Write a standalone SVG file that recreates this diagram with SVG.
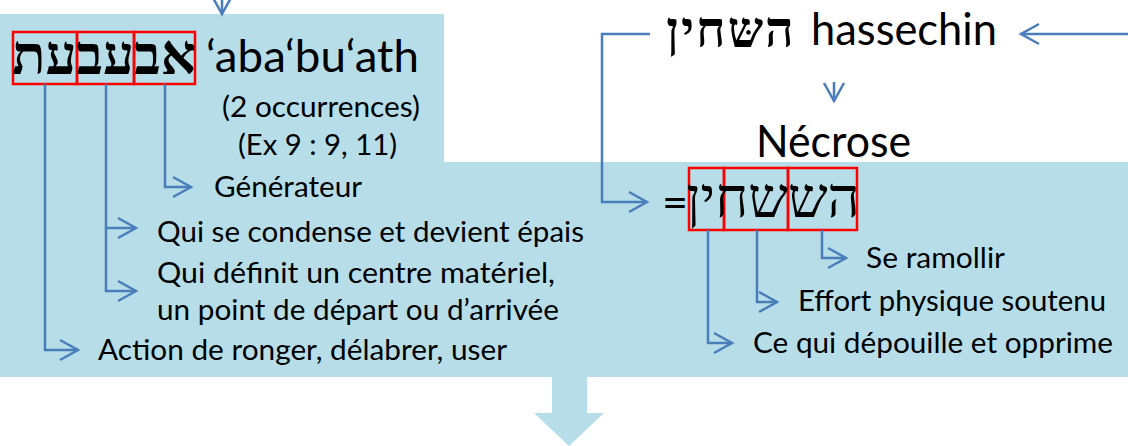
<svg xmlns="http://www.w3.org/2000/svg" width="1128" height="446" viewBox="0 0 1128 446">
  <style>
    .t { font-family: Lato, "Open Sans", "Liberation Sans", sans-serif; fill: #000; }
    .big { font-size: 45px; }
    .sm { font-size: 28px; }
    .heb { font-family: "Liberation Serif", "DejaVu Serif", serif; fill: #000; }
    .conn { fill: none; stroke: #4a7ebb; stroke-width: 2.5; }
    .box { fill: none; stroke: #ff0000; stroke-width: 2.5; }
  </style>
  <defs>
    <marker id="arr" markerUnits="userSpaceOnUse" markerWidth="26" markerHeight="26" viewBox="-21 -13 26 26" refX="0" refY="0" orient="auto">
      <path d="M-18,-10 L0,0 L-18,10" fill="none" stroke="#4a7ebb" stroke-width="2.5"/>
    </marker>
  </defs>

  <path id="background" d="M0,14 H444 V162 H1128 V377 H587 V413 H604 L569,446 L534,413 H552 V377 H0 Z" fill="#b7dee8"/>

  <g id="word-ababuath">
    <rect class="box" x="13" y="32" width="64" height="52"/>
    <rect class="box" x="77" y="32" width="57" height="52"/>
    <rect class="box" x="134" y="32" width="61" height="52"/>
    <text class="heb" x="104" y="74" font-size="55" font-weight="bold" text-anchor="middle">אבעבעת</text>
    <text class="t big" x="206" y="72" textLength="213" lengthAdjust="spacingAndGlyphs">‘aba‘bu‘ath</text>
    <text class="t sm" x="222" y="117" textLength="198" lengthAdjust="spacingAndGlyphs">(2 occurrences)</text>
    <text class="t sm" x="238" y="155" textLength="159" lengthAdjust="spacingAndGlyphs">(Ex 9 : 9, 11)</text>
  </g>

  <g id="meanings-left">
    <text class="t sm" x="214" y="197" textLength="148" lengthAdjust="spacingAndGlyphs">Générateur</text>
    <text class="t sm" x="157" y="242" textLength="427" lengthAdjust="spacingAndGlyphs">Qui se condense et devient épais</text>
    <text class="t sm" x="157" y="283" textLength="398" lengthAdjust="spacingAndGlyphs">Qui définit un centre matériel,</text>
    <text class="t sm" x="157" y="320" textLength="402" lengthAdjust="spacingAndGlyphs">un point de départ ou d’arrivée</text>
    <text class="t sm" x="98" y="360" textLength="409" lengthAdjust="spacingAndGlyphs">Action de ronger, délabrer, user</text>
  </g>

  <g id="word-hassechin">
    <text class="heb" x="731" y="47" font-size="50" font-weight="bold" letter-spacing="2" text-anchor="middle">השּחין</text>
    <text class="t big" x="811" y="45" textLength="186" lengthAdjust="spacingAndGlyphs">hassechin</text>
  </g>

  <g id="necrose">
    <text class="t big" x="756" y="157" textLength="155" lengthAdjust="spacingAndGlyphs">Nécrose</text>
  </g>

  <g id="word-split">
    <text class="t big" x="688" y="218" text-anchor="end">=</text>
    <rect class="box" x="689" y="168" width="35" height="62"/>
    <rect class="box" x="724" y="168" width="64" height="62"/>
    <rect class="box" x="788" y="168" width="69" height="62"/>
    <text class="heb" x="773" y="217" font-size="56" text-anchor="middle">הששחין</text>
  </g>

  <g id="meanings-right">
    <text class="t sm" x="866" y="268" textLength="139" lengthAdjust="spacingAndGlyphs">Se ramollir</text>
    <text class="t sm" x="798" y="311" textLength="308" lengthAdjust="spacingAndGlyphs">Effort physique soutenu</text>
    <text class="t sm" x="753" y="353" textLength="360" lengthAdjust="spacingAndGlyphs">Ce qui dépouille et opprime</text>
  </g>

  <g id="connectors">
    <path class="conn" d="M222,0 V14" marker-end="url(#arr)"/>
    <path class="conn" d="M1128,34 H1021" marker-end="url(#arr)"/>
    <path class="conn" d="M834,82 V101" marker-end="url(#arr)"/>
    <path class="conn" d="M650,34 H602 V202 H647" marker-end="url(#arr)"/>
    <path class="conn" d="M165,84 V187 H191" marker-end="url(#arr)"/>
    <path class="conn" d="M106,84 V228 H136" marker-end="url(#arr)"/>
    <path class="conn" d="M106,228 V291 H136" marker-end="url(#arr)"/>
    <path class="conn" d="M45,84 V350 H78" marker-end="url(#arr)"/>
    <path class="conn" d="M822,230 V258 H846" marker-end="url(#arr)"/>
    <path class="conn" d="M757,230 V302 H777" marker-end="url(#arr)"/>
    <path class="conn" d="M708,230 V343 H732" marker-end="url(#arr)"/>
  </g>
</svg>
